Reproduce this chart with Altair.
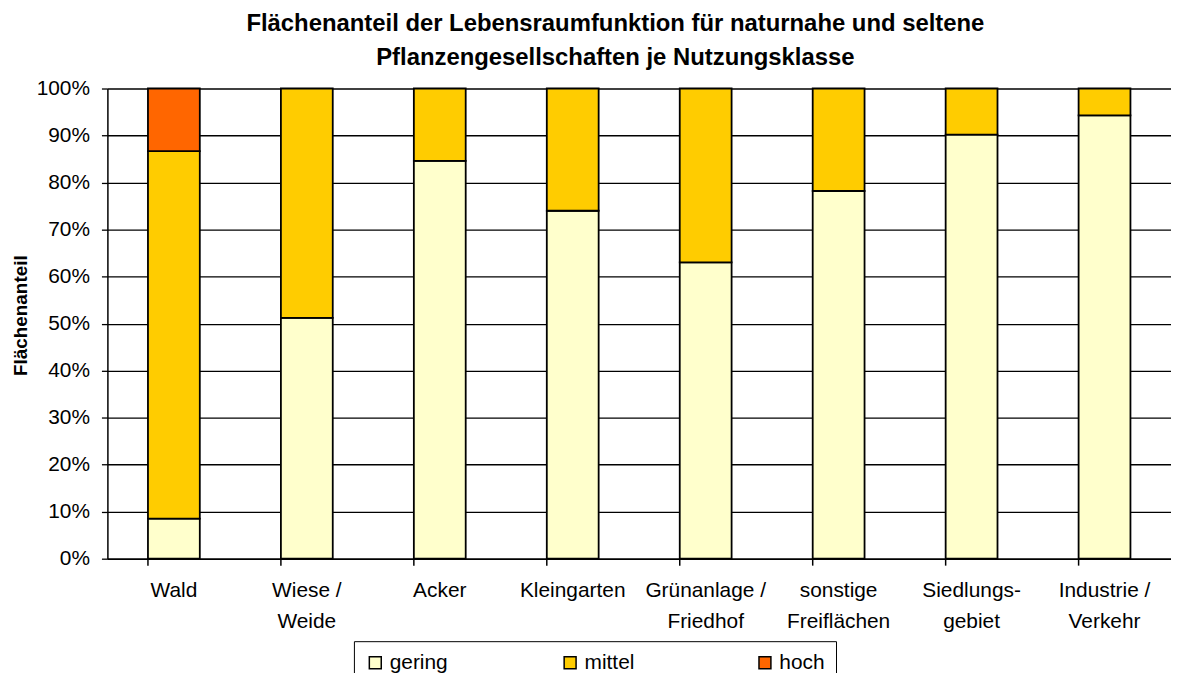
import altair as alt
import pandas as pd

categories = ["Wald", "Wiese /\nWeide", "Acker", "Kleingarten", "Grünanlage /\nFriedhof",
              "sonstige\nFreiflächen", "Siedlungs-\ngebiet", "Industrie /\nVerkehr"]
classes = ["gering", "mittel", "hoch"]
gering = [8.5, 51.2, 84.6, 74.0, 63.0, 78.2, 90.2, 94.3]
mittel = [78.2, 48.8, 15.4, 26.0, 37.0, 21.8, 9.8, 5.7]
hoch = [13.3, 0, 0, 0, 0, 0, 0, 0]
colors = ["#FFFFCC", "#FFCC00", "#FF6600"]

rows = []
for i, c in enumerate(categories):
    for k, (cls, vals) in enumerate(zip(classes, [gering, mittel, hoch])):
        if vals[i] > 0:
            rows.append({"cat": c, "klasse": cls, "wert": vals[i] / 100.0, "ord": k})
df = pd.DataFrame(rows)
ticks_df = pd.DataFrame({"cat": categories})

FONT = "Liberation Sans"

xscale = alt.Scale(domain=categories, paddingInner=0.61, paddingOuter=0.305)

bars = alt.Chart(df).mark_bar(stroke="black", strokeWidth=1.8).encode(
    x=alt.X("cat:N", scale=xscale, sort=categories,
            axis=alt.Axis(title=None, labelAngle=0, ticks=False, labelPadding=21,
                          labelExpr="split(datum.label, '\\n')", labelLineHeight=31,
                          labelFont=FONT, labelFontSize=21, labelColor="black",
                          domainColor="black", domainWidth=1.5, labelBaseline="top")),
    y=alt.Y("wert:Q", stack="zero",
            scale=alt.Scale(domain=[0, 1], nice=False),
            axis=alt.Axis(title="Flächenanteil", format=".0%",
                          values=[i / 10 for i in range(11)],
                          grid=True, gridColor="black", gridWidth=1.3, gridOpacity=1,
                          domainColor="black", domainWidth=1.5,
                          tickColor="black", tickSize=6, tickWidth=1.3,
                          labelFont=FONT, labelFontSize=21, labelColor="black", labelPadding=12,
                          titleFont=FONT, titleFontSize=19, titleFontWeight="bold",
                          titleColor="black", titleX=-81, titleY=228, titleAlign="center",
                          titleBaseline="alphabetic", titleAngle=270)),
    color=alt.Color("klasse:N", scale=alt.Scale(domain=classes, range=colors),
                    legend=alt.Legend(title=None, orient="none", direction="horizontal",
                                      legendX=248, legendY=556, padding=11,
                                      strokeColor="black", columnPadding=112,
                                      symbolType="square", symbolSize=144,
                                      symbolStrokeColor="black", symbolStrokeWidth=1.5,
                                      labelFont=FONT, labelFontSize=21, labelColor="black",
                                      labelOffset=4, gridAlign="all")),
    order=alt.Order("ord:Q"),
)

xticks = alt.Chart(ticks_df).mark_rule(color="black", strokeWidth=1.5).encode(
    x=alt.X("cat:N", scale=xscale, sort=categories, bandPosition=0),
    y=alt.value(473),
    y2=alt.value(480),
)

chart = alt.layer(bars, xticks).properties(
    width=1070,
    height=473,
    title=alt.TitleParams(
        text=["Flächenanteil der Lebensraumfunktion für naturnahe und seltene",
              "Pflanzengesellschaften je Nutzungsklasse"],
        font=FONT, fontSize=24, fontWeight="bold", color="black",
        anchor="middle", dx=-24, lineHeight=34, offset=8,
    ),
    autosize=alt.AutoSizeParams(type="none"),
    padding={"left": 100, "top": 79, "right": 0, "bottom": 113},
).configure_view(stroke=None)

chart.save("out.html", embed_options={"renderer": "svg", "actions": False})
